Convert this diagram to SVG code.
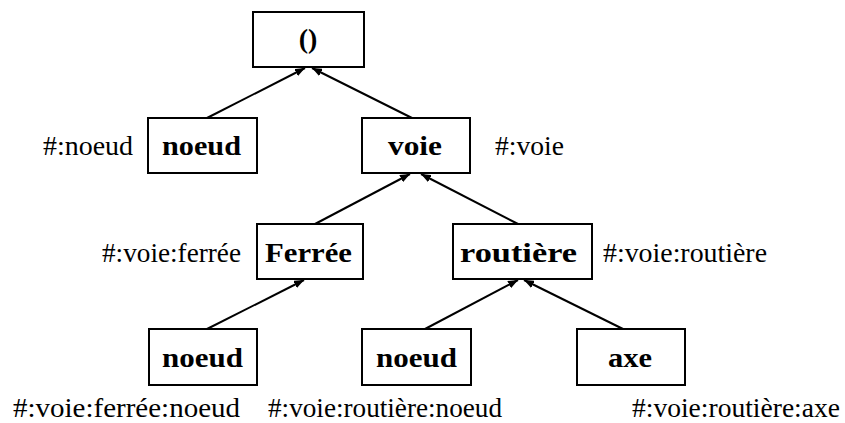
<svg xmlns="http://www.w3.org/2000/svg" width="845" height="423" viewBox="0 0 845 423">
<style>
.box{fill:#fff;stroke:#000;stroke-width:2}
.t{font-family:"Liberation Serif",serif;font-weight:bold;font-size:28px;fill:#000}
.l{font-family:"Liberation Serif",serif;font-size:28px;fill:#000}
.c{stroke:#000;stroke-width:2;fill:none}
</style>
<defs>
<marker id="ah" viewBox="0 0 10 8" refX="10" refY="4" markerWidth="5" markerHeight="4" orient="auto" markerUnits="strokeWidth">
<path d="M0,0 L10,4 L0,8 z" fill="#000"/>
</marker>
</defs>
<rect width="845" height="423" fill="#fff"/>
<g id="connectors">
<line class="c" x1="207" y1="118" x2="305" y2="68" marker-end="url(#ah)"/>
<line class="c" x1="412" y1="118" x2="312" y2="68" marker-end="url(#ah)"/>
<line class="c" x1="315" y1="224" x2="410" y2="174" marker-end="url(#ah)"/>
<line class="c" x1="518" y1="224" x2="421" y2="174" marker-end="url(#ah)"/>
<line class="c" x1="207" y1="329" x2="304" y2="280" marker-end="url(#ah)"/>
<line class="c" x1="425" y1="329" x2="518" y2="280" marker-end="url(#ah)"/>
<line class="c" x1="623" y1="329" x2="524" y2="280" marker-end="url(#ah)"/>
</g>
<g id="root">
<rect class="box" x="253" y="12" width="111" height="55"/>
<text class="t" x="308" y="48" text-anchor="middle">()</text>
</g>
<g id="noeud1">
<rect class="box" x="148" y="118" width="109" height="55"/>
<text class="t" x="162" y="155" textLength="79" lengthAdjust="spacingAndGlyphs">noeud</text>
<text class="l" x="43" y="155" textLength="90" lengthAdjust="spacingAndGlyphs">#:noeud</text>
</g>
<g id="voie">
<rect class="box" x="362" y="118" width="108" height="55"/>
<text class="t" x="388" y="155" textLength="54" lengthAdjust="spacingAndGlyphs">voie</text>
<text class="l" x="495" y="155" textLength="69" lengthAdjust="spacingAndGlyphs">#:voie</text>
</g>
<g id="ferree">
<rect class="box" x="257" y="224" width="106" height="55"/>
<text class="t" x="265" y="262" textLength="87" lengthAdjust="spacingAndGlyphs">Ferrée</text>
<text class="l" x="102" y="262" textLength="139" lengthAdjust="spacingAndGlyphs">#:voie:ferrée</text>
</g>
<g id="routiere">
<rect class="box" x="453" y="224" width="139" height="55"/>
<text class="t" x="460" y="262" textLength="117" lengthAdjust="spacingAndGlyphs">routière</text>
<text class="l" x="603" y="262" textLength="164" lengthAdjust="spacingAndGlyphs">#:voie:routière</text>
</g>
<g id="ferree-noeud">
<rect class="box" x="149" y="329" width="108" height="56"/>
<text class="t" x="162" y="367" textLength="81" lengthAdjust="spacingAndGlyphs">noeud</text>
<text class="l" x="13" y="417" textLength="227" lengthAdjust="spacingAndGlyphs">#:voie:ferrée:noeud</text>
</g>
<g id="routiere-noeud">
<rect class="box" x="362" y="329" width="109" height="56"/>
<text class="t" x="376" y="367" textLength="81" lengthAdjust="spacingAndGlyphs">noeud</text>
<text class="l" x="268" y="417" textLength="234" lengthAdjust="spacingAndGlyphs">#:voie:routière:noeud</text>
</g>
<g id="axe">
<rect class="box" x="577" y="329" width="108" height="56"/>
<text class="t" x="608" y="367" textLength="44" lengthAdjust="spacingAndGlyphs">axe</text>
<text class="l" x="632" y="417" textLength="208" lengthAdjust="spacingAndGlyphs">#:voie:routière:axe</text>
</g>
</svg>
